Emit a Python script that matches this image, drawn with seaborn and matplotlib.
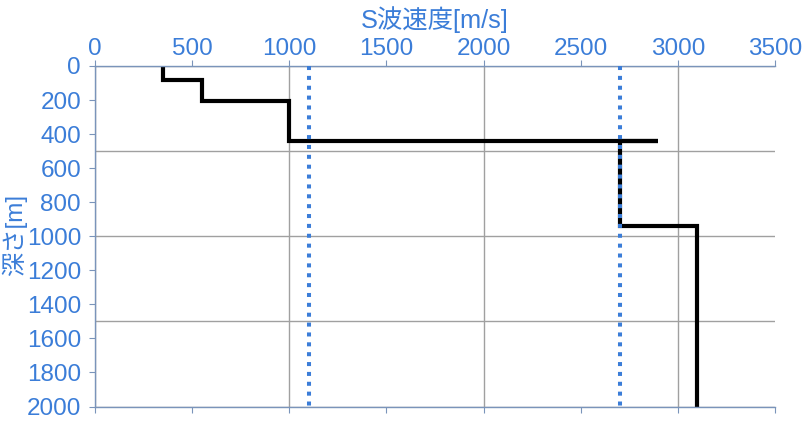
import matplotlib
matplotlib.use('Agg')
import matplotlib.pyplot as plt
import seaborn as sns
import pandas as pd
from matplotlib.ticker import MultipleLocator

sns.set_theme(style="white")
plt.rcParams['font.family'] = ['Liberation Sans', 'Noto Sans CJK JP']

# S-wave velocity profile (step path, velocity vs depth)
profile_vs = [350, 350, 550, 550, 1000, 1000, 2900, 2700, 2700, 3100, 3100]
profile_depth = [0, 80, 80, 205, 205, 440, 440, 440, 940, 940, 2000]

# reference velocities (dotted verticals)
ref_vs = [1100, 2700]
depth_range = [0, 2000]

x_label = 'S波速度[m/s]'
y_label = '深さ[m]'

blue = '#3b7dd8'
spine_col = '#7a94ba'

fig = plt.figure(figsize=(8.09, 4.23), dpi=100)
ax = fig.add_axes([0.1174, 0.039, 0.8406, 0.805])

prof = pd.DataFrame({'vs': profile_vs, 'depth': profile_depth})
sns.lineplot(data=prof, x='vs', y='depth', sort=False, estimator=None,
             color='black', linewidth=3.0, ax=ax, solid_joinstyle='miter',
             solid_capstyle='butt')

for v in ref_vs:
    ref = pd.DataFrame({'vs': [v, v], 'depth': depth_range})
    sns.lineplot(data=ref, x='vs', y='depth', sort=False, estimator=None,
                 color=blue, linewidth=2.9, ax=ax, dashes=False,
                 linestyle=(0, (1.0, 1.45)), dash_capstyle='butt', zorder=3)

ax.set_xlim(0, 3500)
ax.set_ylim(2000, 0)

ax.xaxis.set_major_locator(MultipleLocator(500))
ax.yaxis.set_major_locator(MultipleLocator(200))
ax.xaxis.set_minor_locator(MultipleLocator(1000))
ax.yaxis.set_minor_locator(MultipleLocator(500))
ax.xaxis.remove_overlapping_locs = False
ax.yaxis.remove_overlapping_locs = False
ax.grid(which='minor', color='#a0a0a0', linewidth=1.0)
ax.grid(which='major', visible=False)
ax.set_axisbelow(True)

ax.tick_params(axis='x', which='major', top=True, bottom=True, labeltop=True,
               labelbottom=False, direction='out', length=4, width=0.8,
               color=spine_col, labelcolor=blue, labelsize=17.5, pad=0)
ax.tick_params(axis='y', which='major', left=True, direction='out', length=4,
               width=0.8, color=spine_col, labelcolor=blue, labelsize=17.5, pad=6)
ax.tick_params(which='minor', length=0)

for side in ['top', 'left', 'bottom']:
    ax.spines[side].set_color(spine_col)
    ax.spines[side].set_linewidth(1.0)
ax.spines['right'].set_visible(False)

ax.xaxis.set_label_position('top')
ax.set_xlabel(x_label, color=blue, fontsize=18.3, va='center')
ax.xaxis.set_label_coords(0.5, 1.135)
ax.set_ylabel(y_label, color=blue, fontsize=17.5, va='center')
ax.yaxis.set_label_coords(-0.118, 0.504)

fig.savefig('out.png', dpi=100)
